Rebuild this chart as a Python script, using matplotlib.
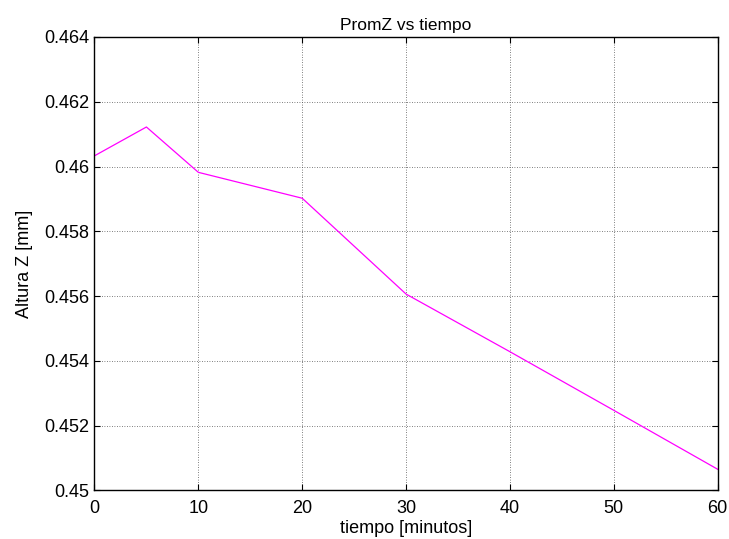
import matplotlib
matplotlib.use("Agg")
import matplotlib.pyplot as plt
from matplotlib.ticker import FuncFormatter, MultipleLocator

plt.rcParams["font.family"] = ["Liberation Sans", "DejaVu Sans"]

# Average Z height over time
tiempo = [0, 5, 10, 20, 30, 40, 50, 60]
prom_z = [0.46033, 0.46122, 0.45982, 0.45902, 0.45606, 0.45428, 0.45247, 0.45065]

fig = plt.figure(figsize=(7.29, 5.39), dpi=100)
ax = fig.add_axes([0.1296, 0.0903, 0.8549, 0.8411])

ax.plot(tiempo, prom_z, color="#ff00ff", linewidth=0.9)

ax.set_xlim(0, 60)
ax.set_ylim(0.45, 0.464)
ax.xaxis.set_major_locator(MultipleLocator(10))
ax.yaxis.set_major_locator(MultipleLocator(0.002))
ax.yaxis.set_major_formatter(FuncFormatter(lambda v, p: "%g" % round(v, 6)))

ax.tick_params(direction="in", length=4, width=0.8, top=True, right=True,
               labelsize=13)
ax.tick_params(axis="x", pad=7)
ax.tick_params(axis="y", pad=3.5)
ax.grid(True, linestyle=(0, (1, 2)), color="#555555", linewidth=0.6)
for s in ax.spines.values():
    s.set_linewidth(1.0)

ax.set_title("PromZ vs tiempo", fontsize=12.5, pad=5)
ax.set_xlabel("tiempo [minutos]", fontsize=13, labelpad=2)
ax.set_ylabel("Altura Z [mm]", fontsize=13, labelpad=8)

fig.savefig("out.png", dpi=100, facecolor="white")
